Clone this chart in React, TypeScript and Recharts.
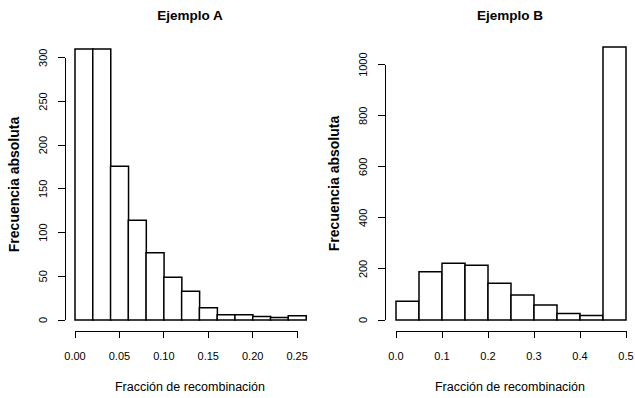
import React from "react";
import { BarChart, Bar, XAxis, YAxis } from "recharts";

// Ejemplo A: bins of 0.02, counts per bin
const binsA = [0.01, 0.03, 0.05, 0.07, 0.09, 0.11, 0.13, 0.15, 0.17, 0.19, 0.21, 0.23, 0.25];
const countsA = [310, 310, 176, 114, 77, 49, 33, 14, 6, 6, 4, 3, 5];
const xTicksA = [0, 0.05, 0.1, 0.15, 0.2, 0.25];
const yTicksA = [0, 50, 100, 150, 200, 250, 300];

// Ejemplo B: bins of 0.05
const binsB = [0.025, 0.075, 0.125, 0.175, 0.225, 0.275, 0.325, 0.375, 0.425, 0.475];
const countsB = [73, 189, 222, 214, 144, 98, 59, 25, 18, 1069];
const xTicksB = [0, 0.1, 0.2, 0.3, 0.4, 0.5];
const yTicksB = [0, 200, 400, 600, 800, 1000];

const FONT = '"Liberation Sans", Arial, Helvetica, sans-serif';
const H = 398;

// base-R style axis: line only between first and last tick, ticks pointing out
function makeXTick(digits: number) {
  let prev = 0;
  return (props: any) => {
    const { x, y, index, payload } = props;
    const from = index === 0 ? x : prev;
    prev = x;
    return (
      <g>
        <line x1={from} y1={y} x2={x} y2={y} stroke="#000" shapeRendering="crispEdges" />
        <line x1={x} y1={y} x2={x} y2={y + 7} stroke="#000" shapeRendering="crispEdges" />
        <text x={x} y={y + 25} textAnchor="middle" dominantBaseline="central" fontSize={11} fontFamily={FONT} fill="#000">
          {Number(payload.value).toFixed(digits)}
        </text>
      </g>
    );
  };
}

function makeYTick() {
  let prev = 0;
  return (props: any) => {
    const { x, y, index, payload } = props;
    const from = index === 0 ? y : prev;
    prev = y;
    const lx = x - 22;
    return (
      <g>
        <line x1={x} y1={from} x2={x} y2={y} stroke="#000" shapeRendering="crispEdges" />
        <line x1={x - 7} y1={y} x2={x} y2={y} stroke="#000" shapeRendering="crispEdges" />
        <text x={lx} y={y} transform={`rotate(-90 ${lx} ${y})`} textAnchor="middle" dominantBaseline="central" fontSize={11} fontFamily={FONT} fill="#000">
          {payload.value}
        </text>
      </g>
    );
  };
}

type HistProps = {
  title: string;
  bins: number[];
  counts: number[];
  xTicks: number[];
  yTicks: number[];
  digits: number;
  xMax: number;
  padLeft: number;
  top: number;
  width: number;
  left: number;
};

function Histogram({ title, bins, counts, xTicks, yTicks, digits, xMax, padLeft, top, width, left }: HistProps) {
  const data = bins.map((mid, i) => ({ mid, count: counts[i] }));
  const plotLeft = 65;
  const plotRight = 315;
  return (
    <div style={{ position: "absolute", left, top: 0, width, height: H }}>
      <div
        style={{
          position: "absolute",
          left: plotLeft,
          width: plotRight - plotLeft,
          top: 8,
          lineHeight: "16px",
          textAlign: "center",
          fontFamily: FONT,
          fontWeight: "bold",
          fontSize: 13.5,
          color: "#000",
        }}
      >
        {title}
      </div>
      <BarChart
        width={width}
        height={H}
        data={data}
        margin={{ top, right: width - plotRight, bottom: 7, left: 5 }}
        barCategoryGap={0}
        barGap={0}
      >
        <XAxis
          type="number"
          dataKey="mid"
          domain={[0, xMax]}
          ticks={xTicks}
          interval={0}
          padding={{ left: padLeft, right: 9 }}
          axisLine={false}
          tickLine={false}
          tickSize={0}
          tickMargin={0}
          height={60}
          tick={makeXTick(digits)}
          label={(p: any) => {
            const vb = p.viewBox;
            return (
              <text x={vb.x + vb.width / 2} y={vb.y + 56} textAnchor="middle" dominantBaseline="central" fontSize={12.5} fontFamily={FONT} fill="#000">
                Fracción de recombinación
              </text>
            );
          }}
        />
        <YAxis
          type="number"
          domain={[0, "dataMax"]}
          ticks={yTicks}
          interval={0}
          padding={{ top: 11, bottom: 11 }}
          axisLine={false}
          tickLine={false}
          tickSize={0}
          tickMargin={0}
          width={60}
          tick={makeYTick()}
          label={(p: any) => {
            const vb = p.viewBox;
            const cx = vb.x + 9;
            const cy = vb.y + vb.height / 2;
            return (
              <text x={cx} y={cy} transform={`rotate(-90 ${cx} ${cy})`} textAnchor="middle" dominantBaseline="central" fontSize={14} fontWeight="bold" fontFamily={FONT} fill="#000">
                Frecuencia absoluta
              </text>
            );
          }}
        />
        <Bar dataKey="count" fill="#fff" stroke="#000" strokeWidth={1.5} isAnimationActive={false} />
      </BarChart>
    </div>
  );
}

export default function App() {
  return (
    <div style={{ position: "absolute", left: 0, top: 0, width: 635, height: H, background: "#fff" }}>
      <Histogram title="Ejemplo A" bins={binsA} counts={countsA} xTicks={xTicksA} yTicks={yTicksA} digits={2} xMax={0.26} padLeft={10} top={38} width={320} left={0} />
      <Histogram title="Ejemplo B" bins={binsB} counts={countsB} xTicks={xTicksB} yTicks={yTicksB} digits={1} xMax={0.5} padLeft={11} top={36} width={315} left={320} />
    </div>
  );
}
